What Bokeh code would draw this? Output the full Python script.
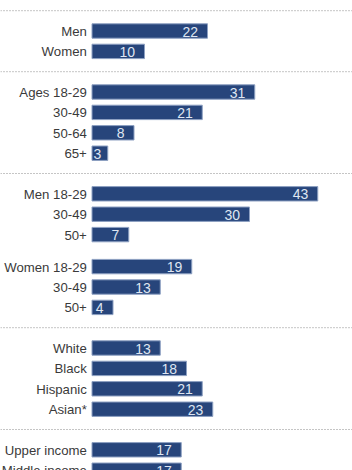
from bokeh.embed import file_html
from bokeh.resources import INLINE
from bokeh.models import ColumnDataSource, Range1d
from bokeh.plotting import figure
from bokeh.core.properties import value

# (label, value) rows; each inner list is a subgroup, each outer list a section
sections = [
    [[("Men", 22), ("Women", 10)]],
    [[("Ages 18-29", 31), ("30-49", 21), ("50-64", 8), ("65+", 3)]],
    [[("Men 18-29", 43), ("30-49", 30), ("50+", 7)],
     [("Women 18-29", 19), ("30-49", 13), ("50+", 4)]],
    [[("White", 13), ("Black", 18), ("Hispanic", 21), ("Asian*", 23)]],
    [[("Upper income", 17), ("Middle income", 17)]],
]

W, H = 352, 470
ORIGIN_PX, UNIT_PX = 91.5, 5.25
FIRST, PITCH, SECTION_GAP, GROUP_GAP = 30.5, 20.4, 40.6, 32.0
MIN_LABEL_X = 3.6
FONT = "Liberation Sans"

labels, values, ys, seps = [], [], [], [FIRST - SECTION_GAP / 2]
y = FIRST
for si, sec in enumerate(sections):
    if si:
        seps.append(ys[-1] + SECTION_GAP / 2)
    for gi, grp in enumerate(sec):
        for lab, val in grp:
            labels.append(lab); values.append(val); ys.append(y)
            y += PITCH
        y += (GROUP_GAP if gi < len(sec) - 1 else SECTION_GAP) - PITCH

src = ColumnDataSource(dict(y=ys, v=values, lab=labels, vt=[str(v) for v in values],
                            lx=[max(v, MIN_LABEL_X) for v in values]))

p = figure(width=W, height=H, output_backend="svg", toolbar_location=None,
           x_range=Range1d(-ORIGIN_PX / UNIT_PX, (W - ORIGIN_PX) / UNIT_PX),
           y_range=Range1d(H, 0), min_border=0, outline_line_color=None,
           x_axis_location=None, y_axis_location=None)
p.grid.visible = False

p.hbar(y="y", left=0, right="v", height=14.4, source=src,
       fill_color="#27457b", line_color="#8da0c2", line_width=1)
p.text(x="lx", y="y", text="vt", source=src, x_offset=-9.5, y_offset=0.5,
       text_align="right", text_baseline="middle", text_color="#dfe6f2",
       text_font=value(FONT), text_font_size="14px")
p.text(x=0, y="y", text="lab", source=src, x_offset=-5.2, y_offset=0.5,
       text_align="right", text_baseline="middle", text_color="#3a3a3a",
       text_font=value(FONT), text_font_size="13.2px")
for s in seps:
    p.line([p.x_range.start, p.x_range.end], [s, s], line_color="#8a8a8a",
           line_width=1, line_dash="1 2")

open("out.html", "w").write(file_html(p, INLINE))
